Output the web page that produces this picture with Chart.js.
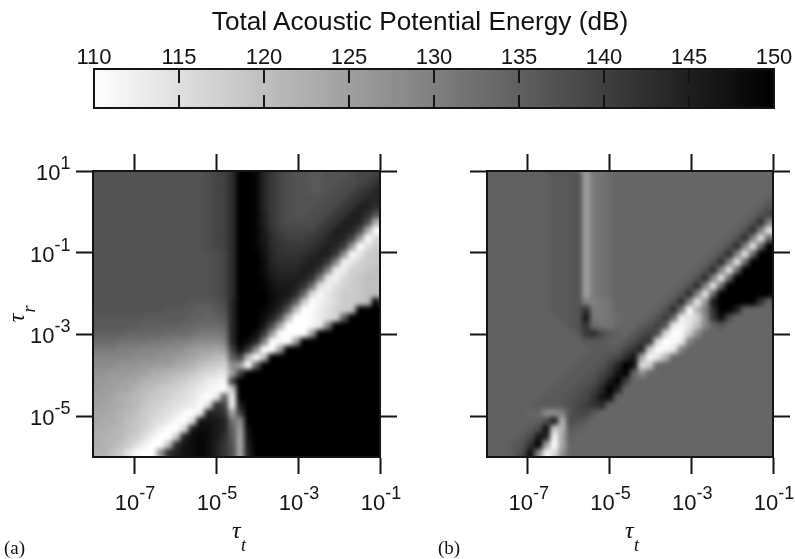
<!DOCTYPE html>
<html><head><meta charset="utf-8">
<script src="https://cdn.jsdelivr.net/npm/chart.js@4"></script>
<style>
html,body{margin:0;padding:0;background:#fff;width:795px;height:559px;overflow:hidden}
canvas{position:absolute;left:0;top:0}
.t{position:absolute;color:#111;white-space:nowrap;line-height:1}
.s{font-family:"Liberation Sans",Arial,sans-serif}
.g{font-family:"Liberation Serif",serif;font-style:italic}
.r{font-family:"Liberation Serif",serif}
</style></head><body>
<canvas id="bar" width="795" height="559"></canvas>
<canvas id="a" width="795" height="559"></canvas>
<canvas id="b" width="795" height="559"></canvas>
<div class="t s" style="left:0;width:840px;text-align:center;top:8px;font-size:26.2px">Total Acoustic Potential Energy (dB)</div>
<div class="t g" style="left:232px;top:518px;font-size:24px">τ</div><div class="t g" style="left:241px;top:536px;font-size:18px">t</div>
<div class="t g" style="left:625px;top:518px;font-size:24px">τ</div><div class="t g" style="left:634px;top:536px;font-size:18px">t</div>
<div class="t g" style="left:12px;top:306px;font-size:24px;transform:rotate(-90deg)">τ</div><div class="t g" style="left:25px;top:300px;font-size:18px;transform:rotate(-90deg)">r</div>
<div class="t r" style="left:4px;top:538px;font-size:19px">(a)</div>
<div class="t r" style="left:438px;top:538px;font-size:19px">(b)</div>
<script>
const barTicks=[110,115,120,125,130,135,140,145,150];
const barLevels=[110.25,110.75,111.25,111.75,112.25,112.75,113.25,113.75,114.25,114.75,115.25,115.75,116.25,116.75,117.25,117.75,118.25,118.75,119.25,119.75,120.25,120.75,121.25,121.75,122.25,122.75,123.25,123.75,124.25,124.75,125.25,125.75,126.25,126.75,127.25,127.75,128.25,128.75,129.25,129.75,130.25,130.75,131.25,131.75,132.25,132.75,133.25,133.75,134.25,134.75,135.25,135.75,136.25,136.75,137.25,137.75,138.25,138.75,139.25,139.75,140.25,140.75,141.25,141.75,142.25,142.75,143.25,143.75,144.25,144.75,145.25,145.75,146.25,146.75,147.25,147.75,148.25,148.75,149.25,149.75];
const tauTExponents=[-7,-5,-3,-1];
const tauRExponents=[1,-1,-3,-5];
const tauTRange=[-8,-1];
const tauRRange=[-6,1];
const gridA=[
[137,137,137,137,137,137,137,137,137,137,137,137,137,137,138,139,140,143,150,150,149,144,141,139,138,137,137,136,136,137,137,137,138,139,139,140],
[137,137,137,137,137,137,137,137,137,137,137,137,137,137,138,139,140,143,150,150,149,144,141,139,138,137,137,136,136,137,137,138,138,139,140,142],
[137,137,137,137,137,137,137,137,137,137,137,137,137,137,138,139,140,143,150,150,149,144,141,139,138,137,137,136,136,137,138,138,139,141,142,144],
[137,137,137,137,137,137,137,137,137,137,137,137,137,137,138,139,140,143,150,150,149,144,141,139,138,137,137,137,137,138,138,139,141,142,144,144],
[137,137,137,137,137,137,137,137,137,137,137,137,137,137,138,139,140,143,150,150,149,144,141,139,138,137,137,137,138,138,139,141,142,145,145,143],
[137,137,137,137,137,137,137,137,137,137,137,137,137,137,138,139,140,143,150,150,149,145,141,139,138,137,137,138,138,139,141,142,145,145,143,137],
[137,137,137,137,137,137,137,137,137,137,137,137,137,137,138,139,140,143,150,150,149,145,141,139,138,138,138,138,139,141,142,145,145,144,138,122],
[137,137,137,137,137,137,137,137,137,137,137,137,137,137,138,139,140,143,150,150,149,146,142,140,139,139,139,139,141,142,145,145,144,139,123,110],
[137,137,137,137,137,137,137,137,137,137,137,137,137,137,138,139,140,143,150,150,149,146,143,141,140,140,140,141,142,144,145,144,140,126,110,116],
[137,137,137,137,137,137,137,137,137,137,137,137,137,137,138,139,140,143,150,150,149,147,143,142,141,141,141,142,144,145,144,141,127,110,115,118],
[137,137,137,137,137,137,137,137,137,137,137,137,137,137,137,138,139,143,150,150,150,147,144,142,142,142,143,144,145,145,141,128,111,114,118,119],
[137,137,137,137,137,137,137,137,137,137,137,137,137,137,137,138,139,143,150,150,150,148,144,143,143,143,144,145,145,141,129,112,114,117,118,119],
[137,137,137,137,137,137,137,137,137,137,137,137,137,137,137,138,139,143,150,150,150,148,145,144,144,144,145,145,141,130,113,113,117,118,119,120],
[137,137,137,137,137,137,137,137,137,137,137,137,137,137,137,138,139,143,150,150,150,149,146,145,145,145,145,142,131,114,112,116,118,119,120,120],
[137,137,137,137,137,137,137,137,137,137,137,137,137,137,137,138,139,143,150,150,150,149,147,146,146,145,142,133,115,112,115,117,118,119,120,120],
[137,137,137,137,137,137,137,137,137,137,137,137,137,137,137,138,139,143,150,150,150,150,148,147,146,143,134,116,111,114,116,118,118,119,120,120],
[137,137,137,137,137,137,137,137,137,137,137,137,136,136,136,137,138,144,150,150,150,150,148,146,143,135,118,110,112,114,116,118,118,119,120,150],
[137,137,137,137,137,137,137,137,137,136,136,136,136,135,135,136,137,144,150,150,150,149,147,144,136,120,110,111,113,115,117,118,119,150,150,150],
[136,136,136,136,136,136,136,136,136,136,136,136,135,135,134,135,136,144,150,150,150,148,145,138,122,110,110,111,113,115,116,135,150,150,150,150],
[136,136,136,136,136,136,135,135,135,135,135,134,134,133,133,133,134,144,150,150,150,146,138,124,110,110,110,111,113,130,150,150,150,150,150,150],
[135,135,135,135,134,134,134,134,134,133,133,133,132,131,131,131,132,144,150,150,148,141,126,110,110,110,110,125,150,150,150,150,150,150,150,150],
[133,133,133,132,132,132,132,131,131,131,130,130,129,128,128,128,129,144,150,148,144,130,110,111,110,125,150,150,150,150,150,150,150,150,150,150],
[131,131,131,130,130,130,129,129,129,128,128,127,126,125,125,124,125,140,148,142,128,110,110,125,150,150,150,150,150,150,150,150,150,150,150,150],
[129,129,129,129,129,128,128,128,127,127,126,125,124,123,122,121,120,135,140,120,110,120,150,150,150,150,150,150,150,150,150,150,150,150,150,150],
[128,128,128,127,127,127,126,126,125,125,124,123,122,120,119,118,117,128,125,110,135,150,150,150,150,150,150,150,150,150,150,150,150,150,150,150],
[127,127,126,126,126,125,125,123,123,122,121,120,119,117,116,115,114,125,140,150,150,150,150,150,150,150,150,150,150,150,150,150,150,150,150,150],
[126,126,125,125,124,124,122,122,121,120,119,118,116,115,113,112,111,140,150,150,150,150,150,150,150,150,150,150,150,150,150,150,150,150,150,150],
[126,125,125,124,124,122,121,120,119,118,117,116,115,113,112,111,110,118,150,150,150,150,150,150,150,150,150,150,150,150,150,150,150,150,150,150],
[125,125,124,123,122,121,120,119,118,117,116,115,114,112,110,113,135,112,150,150,150,150,150,150,150,150,150,150,150,150,150,150,150,150,150,150],
[125,124,124,123,122,121,119,118,117,116,115,114,113,110,115,142,140,112,146,150,150,150,150,150,150,150,150,150,150,150,150,150,150,150,150,150],
[124,124,123,122,121,120,118,117,116,115,113,111,110,113,145,144,142,124,140,150,150,150,150,150,150,150,150,150,150,150,150,150,150,150,150,150],
[124,123,123,122,120,119,118,116,115,113,111,110,115,147,147,146,145,132,128,150,150,150,150,150,150,150,150,150,150,150,150,150,150,150,150,150],
[123,123,122,121,120,119,117,115,112,110,110,116,146,148,148,146,144,135,125,148,150,150,150,150,150,150,150,150,150,150,150,150,150,150,150,150],
[123,122,122,121,119,118,115,112,110,110,118,145,148,149,148,146,143,136,124,147,150,150,150,150,150,150,150,150,150,150,150,150,150,150,150,150],
[123,122,121,120,118,115,112,110,110,120,143,147,148,149,148,145,142,137,124,146,150,150,150,150,150,150,150,150,150,150,150,150,150,150,150,150],
[122,122,120,118,114,111,110,110,128,143,145,147,148,149,148,145,142,138,124,145,150,150,150,150,150,150,150,150,150,150,150,150,150,150,150,150]
];
const gridB=[
[135,135,135,135,135,135,135,135,136,136,136,137,125,131,132,133,134,134,134,134,134,134,134,134,134,134,134,134,134,134,134,134,134,134,134,134],
[135,135,135,135,135,135,135,135,136,136,136,137,125,131,132,133,134,134,134,134,134,134,134,134,134,134,134,134,134,134,134,134,134,134,134,134],
[135,135,135,135,135,135,135,135,136,136,136,137,125,131,132,133,134,134,134,134,134,134,134,134,134,134,134,134,134,134,134,134,134,134,134,134],
[135,135,135,135,135,135,135,135,136,136,136,137,125,131,132,133,134,134,134,134,134,134,134,134,134,134,134,134,134,134,134,134,134,134,134,135],
[135,135,135,135,135,135,135,135,136,136,136,137,125,131,132,133,134,134,134,134,134,134,134,134,134,134,134,134,134,134,134,134,134,134,135,137],
[135,135,135,135,135,135,135,135,136,136,136,137,125,131,132,133,134,134,134,134,134,134,134,134,134,134,134,134,134,134,134,134,134,135,137,139],
[135,135,135,135,135,135,135,135,136,136,136,137,125,131,132,133,134,134,134,134,134,134,134,134,134,134,134,134,134,134,134,134,135,137,143,130],
[135,135,135,135,135,135,135,135,136,136,136,137,125,131,132,133,134,134,134,134,134,134,134,134,134,134,134,134,134,134,134,135,137,143,130,114],
[135,135,135,135,135,135,135,135,136,136,136,137,125,131,132,133,134,134,134,134,134,134,134,134,134,134,134,134,134,134,135,137,143,130,114,134],
[135,135,135,135,135,135,135,135,136,136,136,137,125,131,132,133,134,134,134,134,134,134,134,134,134,134,134,134,134,135,137,143,130,114,134,150],
[135,135,135,135,135,135,135,135,136,136,136,137,125,131,132,133,134,134,134,134,134,134,134,134,134,134,134,134,135,137,143,130,114,134,150,150],
[135,135,135,135,135,135,135,135,136,136,136,137,125,131,132,133,134,134,134,134,134,134,134,134,134,134,134,135,137,143,130,114,134,150,150,150],
[135,135,135,135,135,135,135,135,136,136,136,137,125,131,132,133,134,134,134,134,134,134,134,134,134,134,135,137,143,130,114,134,150,150,150,150],
[135,135,135,135,135,135,135,135,136,136,136,137,125,131,132,133,134,134,134,134,134,134,134,134,134,135,137,143,130,114,134,150,150,150,150,150],
[135,135,135,135,135,135,135,135,136,136,136,137,125,131,132,133,134,134,134,134,134,134,134,134,135,137,143,130,114,134,150,150,150,150,150,150],
[135,135,135,135,135,135,135,135,136,136,136,137,125,131,132,133,134,134,134,134,134,134,134,135,137,143,130,114,134,150,150,150,150,150,150,150],
[135,135,135,135,135,135,135,135,136,136,136,137,130,130,131,132,134,134,134,134,134,134,135,137,143,130,113,126,146,150,150,150,150,150,142,134],
[135,135,135,135,135,135,135,135,136,136,136,137,142,131,131,132,134,134,134,134,134,135,137,143,132,110,122,130,142,150,150,145,134,134,134,134],
[135,135,135,135,135,135,135,135,135,136,136,137,146,131,131,132,133,134,134,134,135,137,141,134,112,114,117,128,141,148,138,134,134,134,134,134],
[135,135,135,135,135,135,135,135,135,135,136,137,142,133,132,132,134,134,134,136,137,140,136,113,111,114,120,129,134,136,134,134,134,134,134,134],
[135,135,135,135,135,135,135,135,135,135,135,136,141,143,138,136,135,134,136,138,140,138,116,110,111,118,128,134,134,134,134,134,134,134,134,134],
[135,135,135,135,135,135,135,135,135,135,135,135,136,136,136,135,135,136,138,141,142,115,110,111,113,130,134,134,134,134,134,134,134,134,134,134],
[135,135,135,135,135,135,135,135,135,135,135,135,135,136,136,136,136,139,142,145,118,110,111,113,130,134,134,134,134,134,134,134,134,134,134,134],
[135,135,135,135,135,135,135,135,135,135,135,135,136,136,136,137,139,143,147,124,111,114,122,134,134,134,134,134,134,134,134,134,134,134,134,134],
[135,135,135,135,135,135,135,135,135,135,135,136,136,136,137,140,144,150,148,115,118,134,134,134,134,134,134,134,134,134,134,134,134,134,134,134],
[135,135,135,135,135,135,135,135,135,135,136,136,136,137,139,142,147,150,134,128,134,134,134,134,134,134,134,134,134,134,134,134,134,134,134,134],
[135,135,135,135,135,135,135,135,135,136,136,136,137,138,141,146,150,140,134,134,134,134,134,134,134,134,134,134,134,134,134,134,134,134,134,134],
[135,135,135,135,135,135,135,135,136,136,136,137,138,140,144,150,145,134,134,134,134,134,134,134,134,134,134,134,134,134,134,134,134,134,134,134],
[135,135,135,135,135,135,135,136,136,136,137,138,139,142,147,148,134,134,134,134,134,134,134,134,134,134,134,134,134,134,134,134,134,134,134,134],
[135,135,135,135,135,135,136,136,136,136,137,139,140,142,143,134,134,134,134,134,134,134,134,134,134,134,134,134,134,134,134,134,134,134,134,134],
[135,135,135,135,135,134,134,128,128,130,137,139,139,136,134,134,134,134,134,134,134,134,134,134,134,134,134,134,134,134,134,134,134,134,134,134],
[135,135,135,135,135,135,135,138,146,122,138,137,136,134,134,134,134,134,134,134,134,134,134,134,134,134,134,134,134,134,134,134,134,134,134,134],
[135,135,135,135,135,136,138,148,118,122,136,135,134,134,134,134,134,134,134,134,134,134,134,134,134,134,134,134,134,134,134,134,134,134,134,134],
[135,135,135,135,136,138,146,145,111,124,135,134,134,134,134,134,134,134,134,134,134,134,134,134,134,134,134,134,134,134,134,134,134,134,134,134],
[135,135,135,136,137,142,150,125,110,124,134,134,134,134,134,134,134,134,134,134,134,134,134,134,134,134,134,134,134,134,134,134,134,134,134,134],
[135,135,135,136,138,148,130,112,115,127,134,134,134,134,134,134,134,134,134,134,134,134,134,134,134,134,134,134,134,134,134,134,134,134,134,134]
];
const INK='#141414';
const W=795,H=559;
function gray(v){const g=Math.round(255*(1-(v-110)/40));return `rgb(${g},${g},${g})`;}
function cellPoints(grid){
  const pts=[],cols=[],n=grid.length;
  grid.forEach((row,j)=>row.forEach((v,i)=>{
    const lx=tauTRange[0]+(i+.5)*(tauTRange[1]-tauTRange[0])/row.length;
    const ly=tauRRange[1]-(j+.5)*(tauRRange[1]-tauRRange[0])/n;
    pts.push({x:Math.pow(10,lx),y:Math.pow(10,ly),v});cols.push(gray(v));
  }));
  return {pts,cols};
}
const softCells={id:'softCells',afterDatasetsDraw(chart){
  const a=chart.chartArea,w=a.right-a.left,h=a.bottom-a.top,pad=12;
  const off=document.createElement('canvas');off.width=w+2*pad;off.height=h+2*pad;
  const o=off.getContext('2d');
  o.drawImage(chart.canvas,a.left,a.top,w,h,0,0,w+2*pad,h+2*pad);
  o.drawImage(chart.canvas,a.left,a.top,w,h,pad,pad,w,h);
  const c=chart.ctx;c.save();c.beginPath();c.rect(a.left,a.top,w,h);c.clip();
  c.filter='blur(2.5px)';c.drawImage(off,a.left-pad,a.top-pad);c.restore();
}};
const powerLabels={id:'powerLabels',afterDraw(chart,args,o){
  const c=chart.ctx;c.save();c.fillStyle=INK;c.textBaseline='alphabetic';
  function lab(exp,xr,base,right){
    const e=String(exp);
    c.font='22px "Liberation Sans"';const w10=c.measureText('10').width;
    c.font='18px "Liberation Sans"';const we=c.measureText(e).width;
    const x0=right?xr-w10-we:xr-(w10+we)/2+1;
    c.font='22px "Liberation Sans"';c.fillText('10',x0,base);
    c.font='18px "Liberation Sans"';c.fillText(e,x0+w10,base-11);
  }
  if(o.x)tauTExponents.forEach(e=>lab(e,chart.scales.x.getPixelForValue(Math.pow(10,e)),510,false));
  if(o.y)tauRExponents.forEach(e=>lab(e,70.5,chart.scales.y.getPixelForValue(Math.pow(10,e))+9,true));
  c.restore();
}};
function heat(id,grid,left,right,showY){
  const {pts,cols}=cellPoints(grid);
  const side=(right-left)/grid[0].length;
  const axis=(pos,exps,min,max)=>({type:'logarithmic',position:pos,min:Math.pow(10,min),max:Math.pow(10,max),
    afterFit(s){if(pos==='top'||pos==='bottom')s.height=0;else s.width=0;},
    afterBuildTicks(s){s.ticks=exps.map(e=>({value:Math.pow(10,e)}));},
    ticks:{display:false,autoSkip:false},
    grid:{drawOnChartArea:false,drawTicks:true,tickLength:17,tickWidth:2,color:INK,z:1},
    border:{display:true,color:INK,width:2,z:1}});
  new Chart(document.getElementById(id),{
    type:'scatter',
    data:{datasets:[{data:pts,pointStyle:'rect',pointRadius:side*Math.SQRT1_2+0.4,pointBorderWidth:0,pointBackgroundColor:cols,pointHoverRadius:0}]},
    options:{responsive:false,animation:false,events:[],
      layout:{padding:{left,right:W-right,top:171,bottom:H-457}},
      plugins:{legend:{display:false},tooltip:{enabled:false},powerLabels:{x:true,y:showY}},
      scales:{x:axis('bottom',tauTExponents,tauTRange[0],tauTRange[1]),
        xTop:axis('top',tauTExponents,tauTRange[0],tauTRange[1]),
        y:axis('left',tauRExponents,tauRRange[0],tauRRange[1]),
        yRight:axis('right',tauRExponents,tauRRange[0],tauRRange[1])}},
    plugins:[softCells,powerLabels]
  });
}
const barFrame={id:'barFrame',afterDraw(chart){
  const c=chart.ctx,a=chart.chartArea,s=chart.scales.xTop;
  c.save();c.strokeStyle=INK;c.lineWidth=2;
  c.strokeRect(a.left,a.top,a.right-a.left,a.bottom-a.top);
  barTicks.slice(1,-1).forEach(v=>{const x=Math.round(s.getPixelForValue(v));
    c.beginPath();c.moveTo(x,a.top);c.lineTo(x,a.top+14);c.moveTo(x,a.bottom-13);c.lineTo(x,a.bottom);c.stroke();});
  c.restore();
}};
new Chart(document.getElementById('bar'),{
  type:'bar',
  data:{labels:barLevels,datasets:[{data:barLevels.map(()=>1),backgroundColor:barLevels.map(gray),barPercentage:1,categoryPercentage:1,borderWidth:0}]},
  options:{responsive:false,animation:false,events:[],
    layout:{padding:{left:94,right:W-774,top:0,bottom:H-108}},
    plugins:{legend:{display:false},tooltip:{enabled:false}},
    scales:{x:{display:false},
      y:{display:false,min:0,max:1},
      xTop:{type:'linear',position:'top',axis:'x',offset:false,min:110,max:150,
        afterFit(s){s.height=69;},
        afterBuildTicks(s){s.ticks=barTicks.map(v=>({value:v}));},
        grid:{display:false,drawTicks:false},border:{display:false},
        ticks:{autoSkip:false,maxRotation:0,padding:-2,color:INK,font:{family:'"Liberation Sans"',size:22}}}}},
  plugins:[softCells,barFrame]
});
heat('a',gridA,93,380,true);
heat('b',gridB,487,773,false);
</script>
</body></html>
